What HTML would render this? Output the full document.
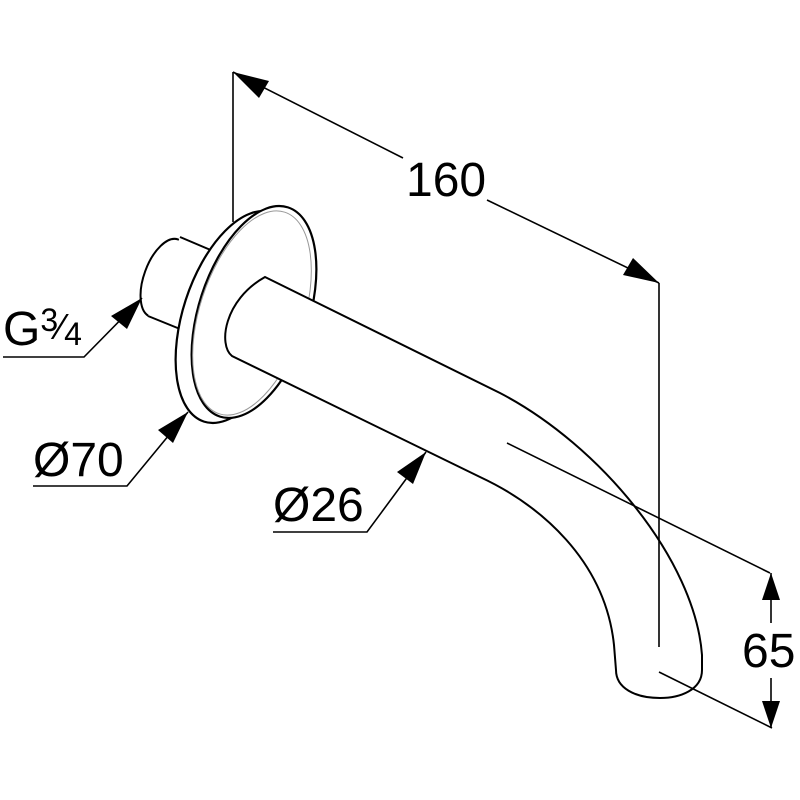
<!DOCTYPE html>
<html><head><meta charset="utf-8"><style>html,body{margin:0;padding:0;background:#fff}svg{display:block}</style></head>
<body>
<svg width="800" height="800" viewBox="0 0 800 800" xmlns="http://www.w3.org/2000/svg" font-family="Liberation Sans, sans-serif">
<g fill="none" stroke="#000" stroke-width="1.6">
<line x1="233" y1="72" x2="233" y2="222"/>
<line x1="233" y1="72" x2="403" y2="158"/>
<line x1="487" y1="200" x2="659" y2="283"/>
<ellipse cx="164" cy="278" rx="41" ry="20" transform="rotate(110 164 278)" fill="#fff" stroke-width="2"/>
<path d="M180,237 L220,254 L180,328 L148,316 Z" fill="#fff" stroke="none"/>
<path d="M180,237 L220,254 M148,316 L185,331" stroke-width="2"/>
<ellipse cx="238" cy="317" rx="110" ry="55" transform="rotate(108 238 317)" fill="#fff" stroke-width="2.2"/>
<ellipse cx="254" cy="312" rx="110" ry="55" transform="rotate(108 254 312)" fill="#fff" stroke-width="2.2"/>
<ellipse cx="252" cy="313" rx="106" ry="52" transform="rotate(108 252 313)" stroke="#999" stroke-width="1"/>
<path d="M265,277 L500,393 C600,445 695,560 702,655 L702,670 C702,690 680,698 660,698 C635,698 616,688 616,670 L614,645 C605,560 540,505 480,477 L232,356 C218,345 224,300 265,277 Z" fill="#fff" stroke-width="2"/>
<line x1="507" y1="443" x2="770" y2="573"/>
<line x1="659" y1="672" x2="772" y2="728"/>
<line x1="659" y1="283" x2="659" y2="647"/>
<line x1="771" y1="573" x2="771" y2="623"/>
<line x1="771" y1="678" x2="771" y2="728"/>
<polyline points="3,357 84,357 142,298"/>
<polyline points="33,486 127,486 188,412"/>
<polyline points="273,532 367,532 426,452"/>
</g>
<g fill="#000">
<polygon points="233,72 269,81 259,98"/>
<polygon points="659,283 623,275 633,258"/>
<polygon points="771,573 762,600 780,600"/>
<polygon points="771,728 762,701 780,701"/>
<polygon points="142,298 127,329 111,316"/>
<polygon points="188,412 173,443 158,430"/>
<polygon points="426,452 413,484 397,472"/>
</g>
<g font-size="48" fill="#000">
<text x="406" y="196">160</text>
<text x="742" y="667">65</text>
<text x="3" y="345">G<tspan font-size="32" dy="-14">3</tspan><tspan font-size="36" dy="8">⁄</tspan><tspan font-size="32" dy="6">4</tspan></text>
<text x="33" y="476">Ø70</text>
<text x="273" y="521">Ø26</text>
</g>
</svg>
</body></html>
